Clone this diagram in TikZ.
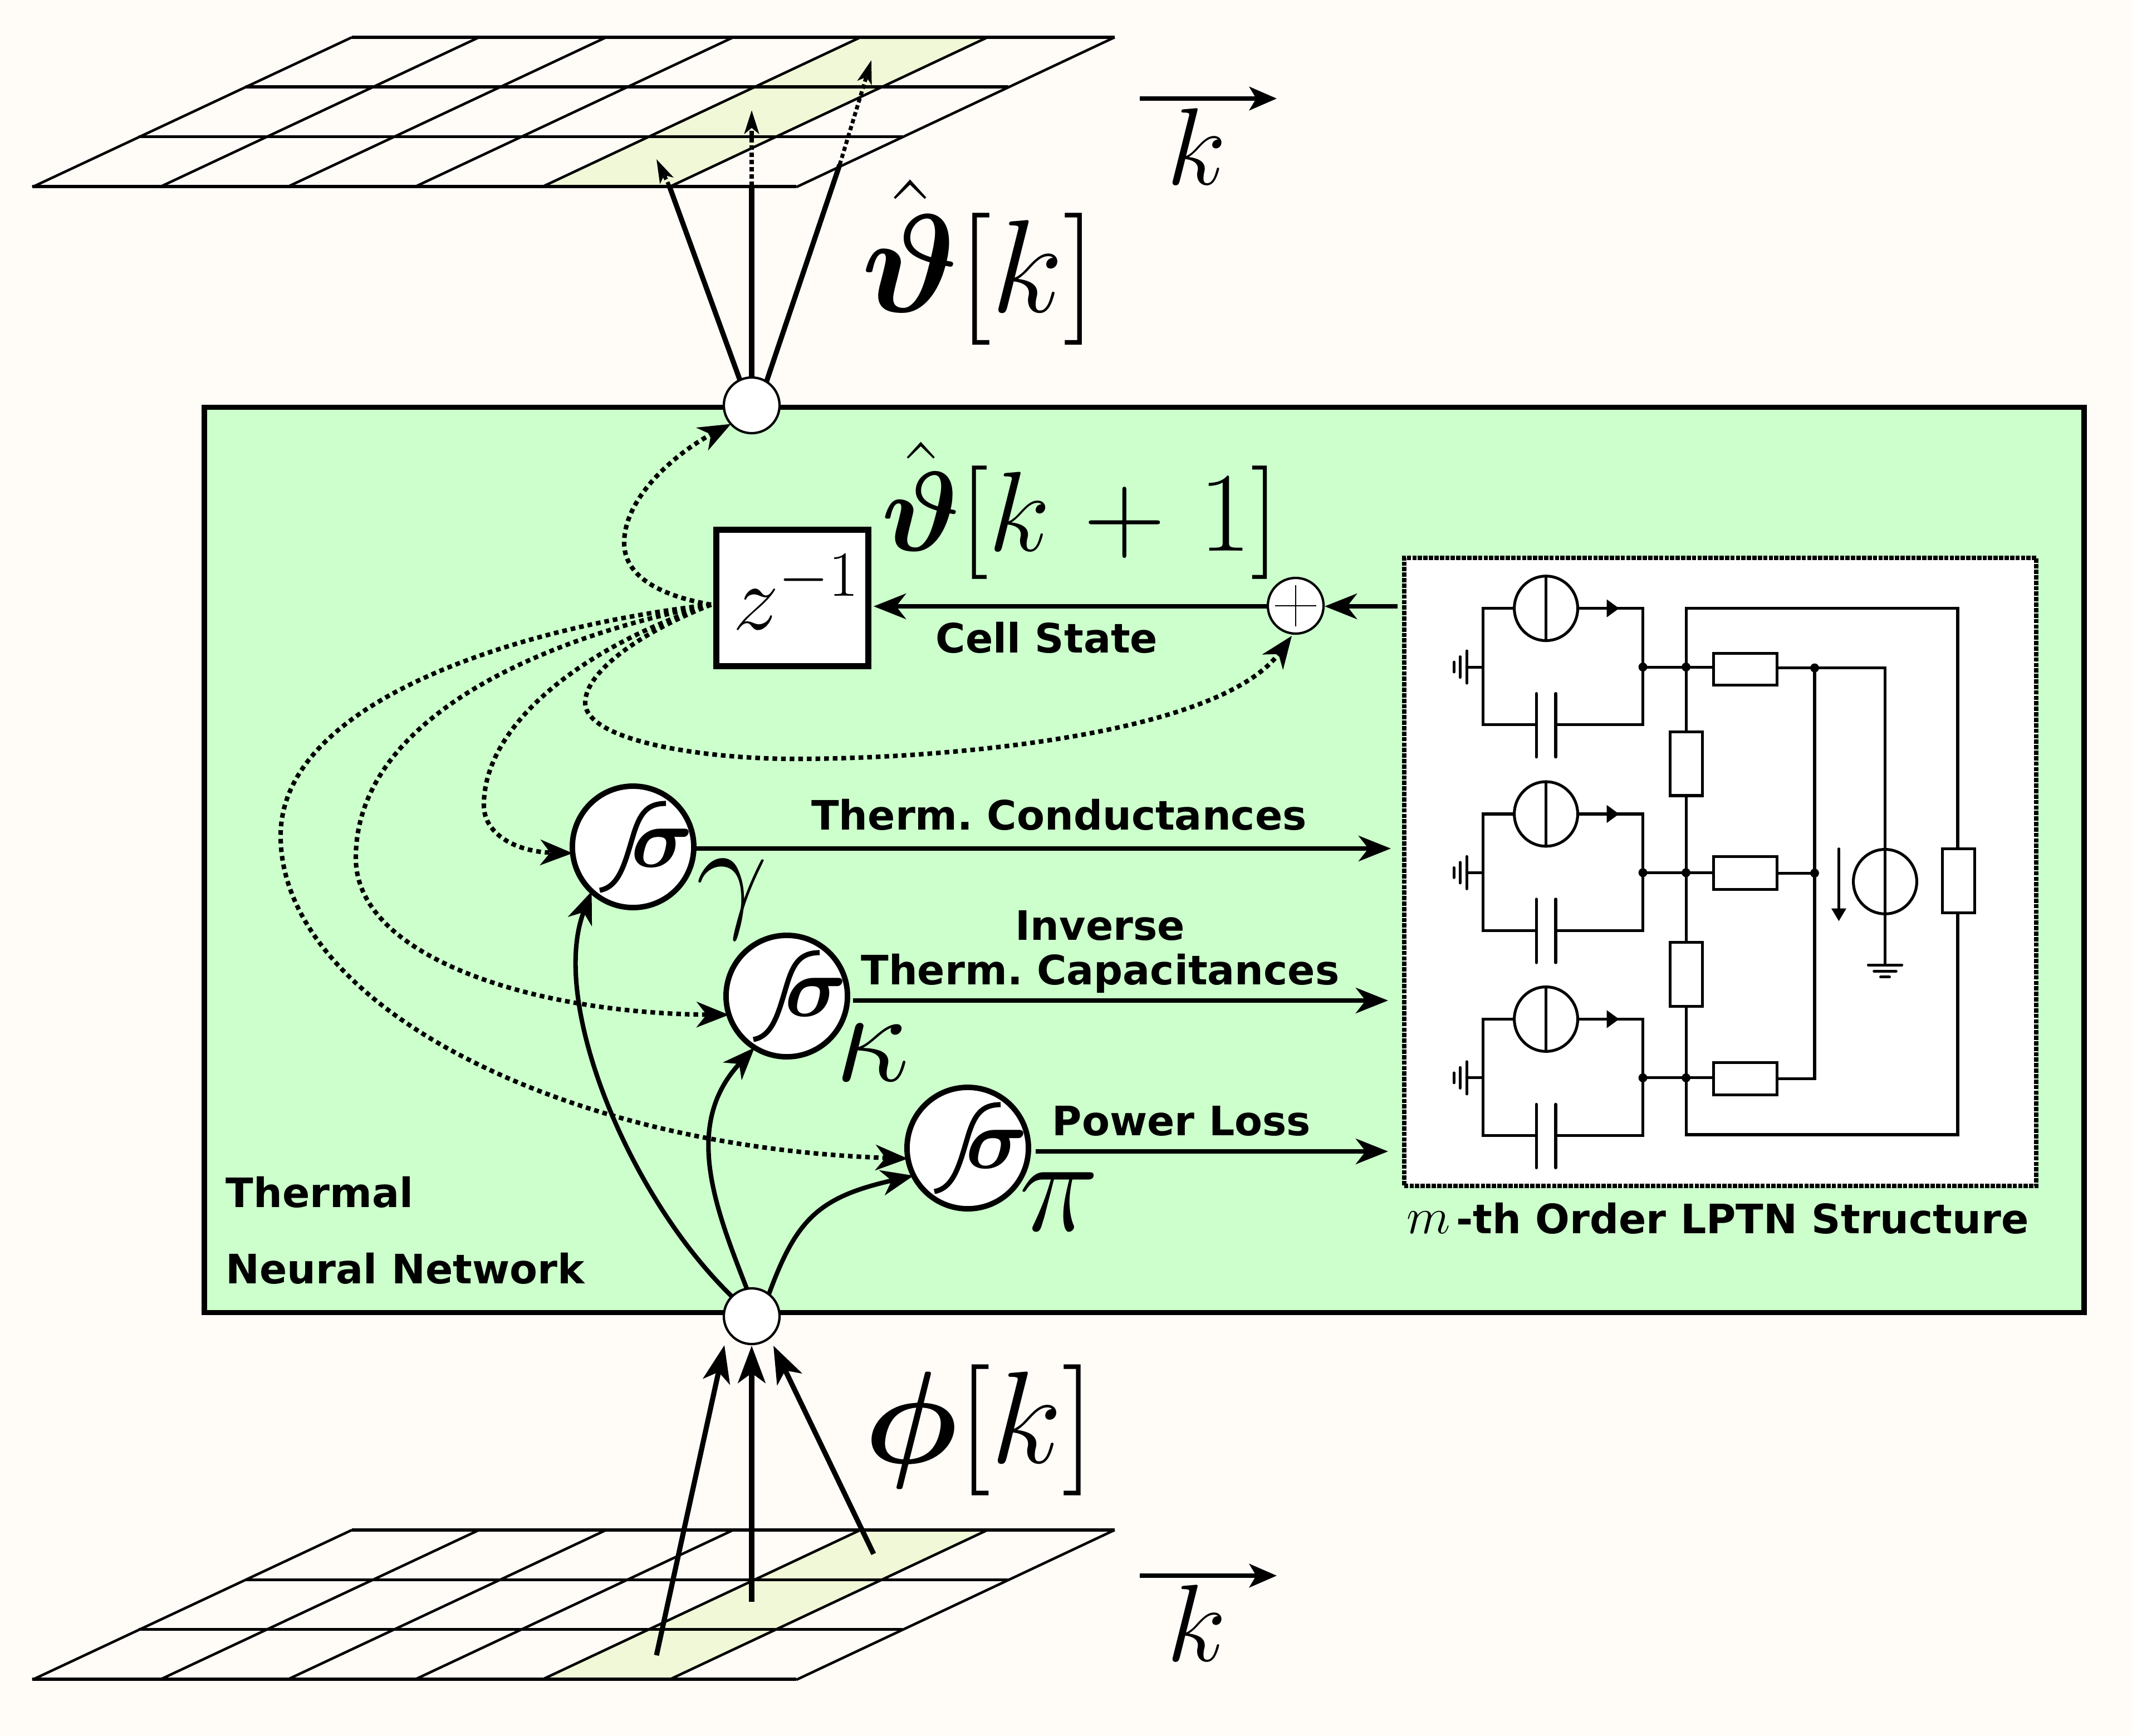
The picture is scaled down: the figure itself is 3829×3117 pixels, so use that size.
\RequirePackage{fix-cm}
\documentclass[tikz,border=0pt]{standalone}
\usepackage{amsmath,amssymb}
\usepackage{graphicx}
\usepackage{fontspec}
\setmainfont{DejaVu Sans}
\usetikzlibrary{arrows.meta}
\definecolor{bgcol}{RGB}{255,252,248}
\definecolor{boxgreen}{RGB}{204,255,204}
\definecolor{hilite}{RGB}{240,248,216}
\newcommand{\sz}[1]{\fontsize{#1}{#1}\selectfont}
\frenchspacing
\tikzset{
  bigtip/.tip={Stealth[length=19pt,width=14pt,inset=5pt]},
  smalltip/.tip={Stealth[length=12pt,width=7.5pt,inset=3pt]},
  sigtip/.tip={Stealth[length=16.5pt,width=13pt,inset=5pt]},
  solidconn/.style={draw=black,line width=2.3pt,-{sigtip}},
  dotconn/.style={draw=black,line width=2.3pt,dash pattern=on 2.4pt off 2pt,-{sigtip[]}},
  topsolid/.style={draw=black,line width=2.6pt},
  topdash/.style={draw=black,line width=2pt,dash pattern=on 2.2pt off 1.5pt,-{smalltip}},
  inarrow/.style={draw=black,line width=2.6pt,-{bigtip}},
  sigcirc/.style={circle,draw=black,fill=white,line width=2.8pt,minimum size=2.18cm,inner sep=0pt,outer sep=0pt},
  sigcurve/.style={line width=2.6pt,line cap=butt},
  conncirc/.style={circle,draw=black,fill=white,line width=1.2pt,minimum size=1cm,inner sep=0pt,outer sep=0pt},
  lbl/.style={font=\sz{20.7}\bfseries,inner sep=0pt,anchor=base},
  mathlbl/.style={inner sep=0pt,anchor=base west},
  cw/.style={line width=1.45pt,line cap=round,line join=miter},
}
\newcommand{\gridplane}{%
  \fill[hilite] (973,336) -- (1202,336) -- (1774,67) -- (1545,67) -- cycle;
  \foreach \i in {0,...,6}{\draw[line width=1.3pt] ({58+\i*228.7},336) -- ({632+\i*228.3},67);}
  \foreach \j in {0,...,3}{\draw[line width=1.6pt] ({632-\j*191.3},{67+\j*89.3}) -- ({2002-\j*190.7},{67+\j*89.3});}
}
\newcommand{\signeuron}[3]{%
  \node[sigcirc] (#1) at (#2,#3) {};
  \draw[sigcurve,shift={(#2,#3)}] (-60,78) .. controls (-25,72) and (-15,30) .. (0,-20) .. controls (12,-60) and (25,-78) .. (59,-78);
  \node[inner sep=0pt] (#1sym) at ({#2+52},{#3+2}) {\sz{44}$\boldsymbol{\sigma}$};
}
\begin{document}
\begin{tikzpicture}[x=0.01cm,y=-0.01cm]
\useasboundingbox (0,0) rectangle (3829,3117);
\fill[bgcol] (0,0) rectangle (3829,3117);
% grids
\gridplane
\begin{scope}[shift={(0,2681)}]\gridplane\end{scope}
% main box
\node[rectangle,draw=black,fill=boxgreen,line width=2.8pt,minimum width=33.74cm,minimum height=16.25cm,inner sep=0pt,outer sep=0pt] (tnn) at (2055,1544.5) {};
% top + bottom connector circles
\coordinate (tl1) at (1179,286); \coordinate (tl2) at (1350,198); \coordinate (tl3) at (1565,108);
\coordinate (tm1) at (1202,334); \coordinate (tm2) at (1350,334); \coordinate (tm3) at (1508,296);
\coordinate (bl1) at (1179,2973); \coordinate (bl2) at (1350,2877); \coordinate (bl3) at (1569,2791);
\coordinate (bt1) at (1301,2416); \coordinate (bt2) at (1350,2417); \coordinate (bt3) at (1389,2417);
\node[conncirc] (topc) at (1350,728) {};
\node[conncirc] (botc) at (1350,2364) {};
\draw[topsolid] (topc.115) -- (tm1);
\draw[topsolid] (topc.north) -- (tm2);
\draw[topsolid] (topc.58) -- (tm3);
\draw[topdash] (tm1) -- (tl1);
\draw[topdash] (tm2) -- (tl2);
\draw[topdash] (tm3) -- (tl3);
\draw[inarrow] (bl1) -- (bt1);
\draw[inarrow] (bl2) -- (bt2);
\draw[inarrow] (bl3) -- (bt3);
% k arrows
\coordinate (ka1) at (2047,177); \coordinate (ka2) at (2293,177);
\coordinate (kb1) at (2047,2830); \coordinate (kb2) at (2293,2830);
\draw[line width=2.2pt,-{Stealth[length=14pt,width=12pt,inset=3.5pt]}] (ka1) -- (ka2);
\draw[line width=2.2pt,-{Stealth[length=14pt,width=12pt,inset=3.5pt]}] (kb1) -- (kb2);
\node[mathlbl] (kl1) at (2095,331) {\sz{56}$k$};
\node[mathlbl] (kl2) at (2095,2983) {\sz{56}$k$};
\node[mathlbl] (thetak) at (1547,560) {\sz{67.5}$\hat{\scalebox{1.06}{$\boldsymbol{\vartheta}$}}[k]$};
\node[mathlbl] (phik) at (1552,2627) {\sz{67}$\boldsymbol{\phi}[k]$};
\node[mathlbl] (thetak1) at (1583,989) {\sz{58}$\hat{\boldsymbol{\vartheta}}[k\mskip1.3mu+\mskip1.3mu1]$};
% z box, sum
\node[rectangle,draw=black,fill=white,line width=3.1pt,minimum width=2.73cm,minimum height=2.45cm,inner sep=0pt,outer sep=0pt] (zb) at (1423,1074) {};
\node[inner sep=0pt] (zt) at (1430,1063) {\sz{47}$z^{-1}$};
\node[conncirc] (plus) at (2327,1088) {};
\draw[line width=.8pt] (2290,1088) -- (2364,1088);
\draw[line width=.8pt] (2327,1051) -- (2327,1125);
% LPTN box
\node[rectangle,draw=black,fill=white,line width=2.3pt,dash pattern=on 2.2pt off .6pt,minimum width=11.35cm,minimum height=11.28cm,inner sep=0pt,outer sep=0pt] (lptn) at (3089.5,1566) {};
% neurons
\signeuron{s1}{1137}{1521}
\signeuron{s2}{1413}{1789}
\signeuron{s3}{1738}{2062}
% outputs
\coordinate (o1) at (2498,1524); \coordinate (o2) at (2493,1797); \coordinate (o3) at (2493,2068);
\coordinate (zin) at (1569,1089); \coordinate (pin) at (2379,1089); \coordinate (lout) at (2510,1089);
\draw[solidconn] (s1.east) ++(0,3) -- (o1);
\draw[solidconn] (1532,1797) -- (o2);
\draw[solidconn] (1860,2068) -- (o3);
\draw[solidconn] (plus.west) ++(0,1) -- (zin);
\draw[solidconn] (lout) -- (pin);
% input curves
\draw[solidconn] (botc.135) .. controls (1130,2150) and (985,1800) .. (s1.227);
\draw[solidconn] (botc.100) .. controls (1285,2170) and (1225,2020) .. (s2.238);
\draw[solidconn] (botc.52) .. controls (1430,2190) and (1470,2150) .. (s3.207);
% dotted
\coordinate (zo) at (1277,1086);
\coordinate (pt) at (2320,1142);
\draw[dotconn] (zo) .. controls (1175,1068) and (1121,1030) .. (1121,975) .. controls (1121,890) and (1220,810) .. (topc.222);
\draw[dotconn] (zo) .. controls (1140,1140) and (1051,1210) .. (1051,1262) .. controls (1051,1330) and (1260,1363) .. (1428,1363) .. controls (1700,1363) and (2190,1320) .. (pt);
\draw[dotconn] (zo) .. controls (1050,1160) and (869,1300) .. (869,1446) .. controls (869,1500) and (930,1530) .. (s1.186);
\draw[dotconn] (zo) .. controls (950,1150) and (639,1300) .. (639,1541) .. controls (639,1720) and (960,1820) .. (s2.198);
\draw[dotconn] (zo) .. controls (900,1130) and (504,1270) .. (504,1501) .. controls (504,1800) and (1000,2060) .. (s3.190);
% greek
\node[mathlbl] (gam) at (1250,1642) {\sz{65}$\gamma$};
\node[mathlbl] (kap) at (1500,1941) {\sz{67}$\kappa$};
\node[mathlbl] (pi1) at (1830,2210) {\sz{69}$\pi$};
% texts
\node[lbl] (t1) at (1902,1490) {Therm. Conductances};
\node[lbl] (t2) at (1976,1688) {Inverse};
\node[lbl] (t3) at (1976,1768) {Therm. Capacitances};
\node[lbl] (t4) at (2122,2039) {Power Loss};
\node[lbl] (t5) at (1880,1172) {Cell State};
\node[lbl,anchor=base west] (t6) at (405,2168) {Thermal};
\node[lbl,anchor=base west] (t7) at (405,2305) {Neural Network};
\node[lbl,anchor=base west] (t8) at (2526,2215) {{\sz{26}\normalfont$m$}\hspace{3pt}-th Order LPTN Structure};
% circuit
\begin{scope}[shift={(2480,980)},x=0.0079cm,y=-0.00804cm,cw]
  \foreach \dy in {0,459,917}{
    \begin{scope}[shift={(0,\dy)}]
    \draw (303,140) -- (232,140) -- (232,400) -- (353,400);
    \draw (397,400) -- (595,400) -- (595,140) -- (447,140);
    \draw (375,140) circle [radius=72];
    \draw (375,68) -- (375,212);
    \fill (513,120) -- (541,140) -- (513,160) -- cycle;
    \draw (353,330) -- (353,472);
    \draw (397,330) -- (397,472);
    \draw (232,271) -- (195,271);
    \draw (195,235) -- (195,307);
    \draw (180,248) -- (180,294);
    \draw (166,260) -- (166,282);
    \draw (595,271) -- (755,271);
    \fill (595,271) circle [radius=10];
    \fill (693,271) circle [radius=10];
    \end{scope}
  }
  % rails
  \draw (693,1315) -- (693,140) -- (1310,140) -- (1310,1315) -- cycle;
  \draw[fill=white] (657,416) rectangle (730,558);
  \draw[fill=white] (657,886) rectangle (730,1028);
  \draw[fill=white] (1275,677) rectangle (1348,820);
  \draw[fill=white] (755,240) rectangle (900,311);
  \draw[fill=white] (755,694) rectangle (900,767);
  \draw[fill=white] (755,1154) rectangle (900,1226);
  \draw (900,273) -- (1145,273) -- (1145,936);
  \draw (985,273) -- (985,1190) -- (900,1190);
  \draw (900,731) -- (985,731);
  \fill (985,273) circle [radius=10];
  \fill (985,731) circle [radius=10];
  \draw (1145,750) circle [radius=72];
  \draw (1107,936) -- (1183,936);
  \draw (1120,950) -- (1170,950);
  \draw (1135,963) -- (1155,963);
  \draw (1040,677) -- (1040,815);
  \fill (1023,810) -- (1057,810) -- (1040,838) -- cycle;
\end{scope}
\end{tikzpicture}
\end{document}
